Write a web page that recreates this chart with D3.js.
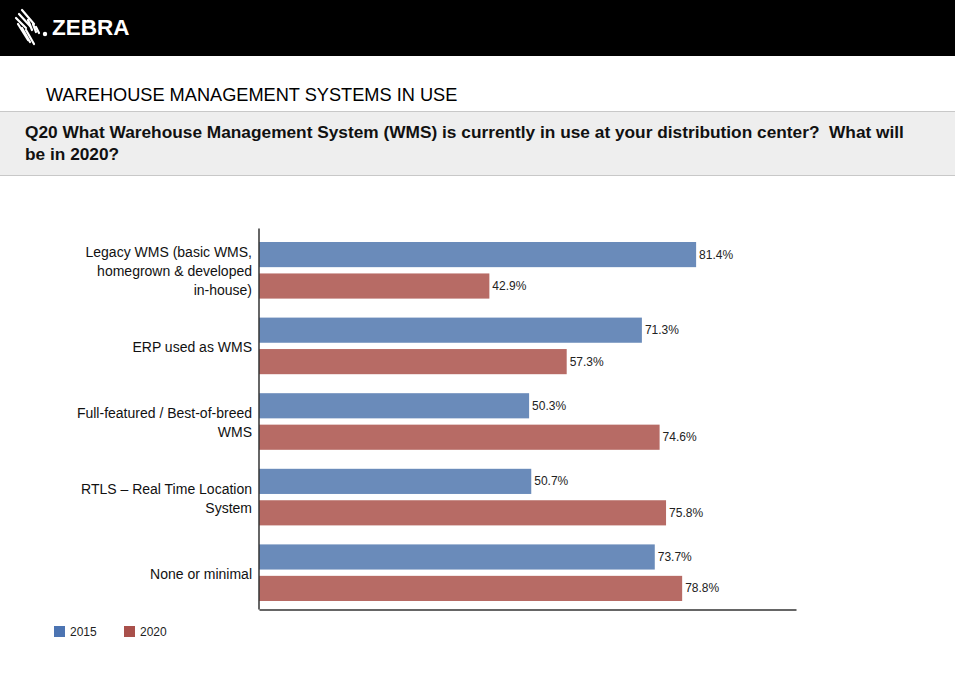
<!DOCTYPE html>
<html><head><meta charset="utf-8">
<script src="https://cdn.jsdelivr.net/npm/d3@7"></script>
<style>body{margin:0;background:#fff}svg{display:block;font-family:Arial,"Liberation Sans",sans-serif}text{white-space:pre}</style>
</head><body><div id="chart"></div>
<script>
const categories = [
  ["Legacy WMS (basic WMS,","homegrown & developed","in-house)"],
  ["ERP used as WMS"],
  ["Full-featured / Best-of-breed","WMS"],
  ["RTLS – Real Time Location","System"],
  ["None or minimal"]
];
const seriesNames = ["2015","2020"];
const values2015 = [81.4, 71.3, 50.3, 50.7, 73.7];
const values2020 = [42.9, 57.3, 74.6, 75.8, 78.8];
const barColors = ["#6a8bba","#b76b65"];
const legendColors = ["#4c74b2","#a9504b"];

const W = 955, H = 677;
const svg = d3.select("#chart").append("svg").attr("width",W).attr("height",H);

// header
svg.append("rect").attr("x",0).attr("y",0).attr("width",W).attr("height",56).attr("fill","#000");
const logo = svg.append("g").attr("transform","translate(16,10)");
[[0,8,10,18],[3,4,14,16],[6,0,18,14],[2,14,12,30],[6,18,14,32],[10,20,18,34],[12,10,16,20],[17,14,20,22],[20,17,23,23]].forEach(d=>{
  logo.append("line").attr("x1",d[0]).attr("y1",d[1]).attr("x2",d[2]).attr("y2",d[3])
    .attr("stroke","#fff").attr("stroke-width",2.2).attr("stroke-linecap","round");
});
logo.append("circle").attr("cx",29).attr("cy",24).attr("r",2.2).attr("fill","#fff");
svg.append("text").attr("x",52).attr("y",35).attr("fill","#fff").attr("font-weight","bold")
  .attr("font-size",22.5).text("ZEBRA");

svg.append("text").attr("x",46).attr("y",101).attr("font-size",18.2).attr("fill","#000")
  .text("WAREHOUSE MANAGEMENT SYSTEMS IN USE");
svg.append("rect").attr("x",0).attr("y",111).attr("width",W).attr("height",64).attr("fill","#eeeeee");
svg.append("line").attr("x1",0).attr("x2",W).attr("y1",111.5).attr("y2",111.5).attr("stroke","#c8c8c8");
svg.append("line").attr("x1",0).attr("x2",W).attr("y1",175.5).attr("y2",175.5).attr("stroke","#c8c8c8");
svg.append("text").attr("x",25).attr("y",138).attr("font-size",17.3).attr("font-weight","bold").attr("fill","#111")
  .text("Q20 What Warehouse Management System (WMS) is currently in use at your distribution center?  What will");
svg.append("text").attr("x",25).attr("y",160).attr("font-size",17.3).attr("font-weight","bold").attr("fill","#111")
  .text("be in 2020?");

// chart
const x0 = 259, x1 = 796, yTop = 228, yBot = 606, yBase = 609;
const x = d3.scaleLinear().domain([0,100]).range([x0,x1]);
const y = d3.scaleBand().domain(d3.range(categories.length)).range([yTop,yBot]).paddingInner(0).paddingOuter(0);
const inner = d3.scaleBand().domain(seriesNames).range([14, y.bandwidth()-5]).paddingInner(0.2);

const data = categories.map((c,i)=>({c, vals:[values2015[i], values2020[i]]}));
const g = svg.append("g");
data.forEach((d,i)=>{
  d.vals.forEach((v,j)=>{
    const yy = y(i)+inner(seriesNames[j]);
    g.append("rect").attr("x",x(0)).attr("y",yy).attr("width",x(v)-x(0)).attr("height",inner.bandwidth())
      .attr("fill",barColors[j]);
    g.append("text").attr("x",x(v)+3).attr("y",yy+inner.bandwidth()/2+4).attr("font-size",12).attr("fill","#222")
      .text(v.toFixed(1)+"%");
  });
  const cy = y(i)+ (14 + y.bandwidth()-5)/2 + 1;
  const n = d.c.length, lh = 19;
  d.c.forEach((line,k)=>{
    g.append("text").attr("x",252).attr("y",cy + (k-(n-1)/2)*lh + 5).attr("text-anchor","end")
      .attr("font-size",14).attr("fill","#111").text(line);
  });
});

// axis lines
const yScaleAxis = d3.scaleLinear().domain([0,1]).range([yTop,yBase]);
const yAxis = d3.axisLeft(yScaleAxis).tickSize(0).tickValues([]).tickSizeOuter(0);
svg.append("g").attr("transform",`translate(${x0-0.5},0)`).call(yAxis)
  .call(s=>s.select(".domain").attr("stroke","#333").attr("stroke-width",1.5));
const xAxis = d3.axisBottom(x).tickValues([]).tickSizeOuter(0);
svg.append("g").attr("transform",`translate(0,${yBase+0.5})`).call(xAxis)
  .call(s=>s.select(".domain").attr("stroke","#333").attr("stroke-width",1.5));

// legend
const leg = svg.append("g");
seriesNames.forEach((s,j)=>{
  const lx = 54 + j*70;
  leg.append("rect").attr("x",lx).attr("y",626).attr("width",11).attr("height",11).attr("fill",legendColors[j]);
  leg.append("text").attr("x",lx+16).attr("y",636).attr("font-size",12).attr("fill","#222").text(s);
});
</script></body></html>
